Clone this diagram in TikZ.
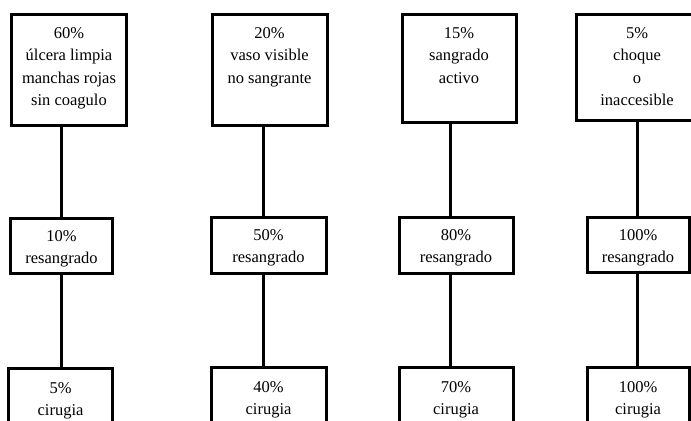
\documentclass[tikz,border=0pt]{standalone}
\usepackage{fontspec}
\setmainfont{Liberation Serif}
\begin{document}
\begin{tikzpicture}[x=1bp,y=-1bp,
  box/.style={draw, line width=3bp, inner sep=0pt, outer sep=0pt},
  lbl/.style={anchor=north, align=center, inner sep=0pt, font=\fontsize{16.5bp}{22.5bp}\selectfont},
  conn/.style={line width=3bp}]
\clip (0,0) rectangle (691,420);
\fill[white] (0,0) rectangle (691,420);
% column x positions of connectors
\coordinate (c1) at (61,0);
\coordinate (c2) at (263,0);
\coordinate (c3) at (450,0);
\coordinate (c4) at (637,0);
% top row
\node[box, minimum width=114bp, minimum height=111bp] (t1) at (69,69.5) {};
\node[box, minimum width=115bp, minimum height=111bp] (t2) at (269.5,69.5) {};
\node[box, minimum width=114bp, minimum height=108bp] (t3) at (459,68) {};
\node[box, minimum width=124bp, minimum height=106bp] (t4) at (638,67) {};
% middle row
\node[box, minimum width=101bp, minimum height=55bp] (m1) at (61.5,245.5) {};
\node[box, minimum width=115bp, minimum height=56bp] (m2) at (268.5,245) {};
\node[box, minimum width=114bp, minimum height=56bp] (m3) at (456,245) {};
\node[box, minimum width=102bp, minimum height=55bp] (m4) at (638,244.5) {};
% bottom row
\node[box, minimum width=103bp, minimum height=72bp] (b1) at (60.5,404) {};
\node[box, minimum width=115bp, minimum height=73bp] (b2) at (268.5,403.5) {};
\node[box, minimum width=114bp, minimum height=73bp] (b3) at (456,403.5) {};
\node[box, minimum width=102bp, minimum height=73bp] (b4) at (638,403.5) {};
% texts
\node[lbl] (t1l) at ([yshift=-13bp]t1.north) {60\%\\úlcera limpia\\manchas rojas\\sin coagulo};
\node[lbl] (t2l) at ([yshift=-13bp]t2.north) {20\%\\vaso visible\\no sangrante};
\node[lbl] (t3l) at ([yshift=-13bp]t3.north) {15\%\\sangrado\\activo};
\node[lbl] (t4l) at ([yshift=-13bp,xshift=-1bp]t4.north) {5\%\\choque\\o\\inaccesible};
\node[lbl] (m1l) at ([yshift=-12bp]m1.north) {10\%\\resangrado};
\node[lbl] (m2l) at ([yshift=-12bp]m2.north) {50\%\\resangrado};
\node[lbl] (m3l) at ([yshift=-12bp]m3.north) {80\%\\resangrado};
\node[lbl] (m4l) at ([yshift=-12bp]m4.north) {100\%\\resangrado};
\node[lbl] (b1l) at ([yshift=-14bp]b1.north) {5\%\\cirugia};
\node[lbl] (b2l) at ([yshift=-14bp]b2.north) {40\%\\cirugia};
\node[lbl] (b3l) at ([yshift=-14bp]b3.north) {70\%\\cirugia};
\node[lbl] (b4l) at ([yshift=-14bp]b4.north) {100\%\\cirugia};
% connectors
\draw[conn] (t1.south -| c1) -- (m1.north -| c1);
\draw[conn] (m1.south -| c1) -- (b1.north -| c1);
\draw[conn] (t2.south -| c2) -- (m2.north -| c2);
\draw[conn] (m2.south -| c2) -- (b2.north -| c2);
\draw[conn] (t3.south -| c3) -- (m3.north -| c3);
\draw[conn] (m3.south -| c3) -- (b3.north -| c3);
\draw[conn] (t4.south -| c4) -- (m4.north -| c4);
\draw[conn] (m4.south -| c4) -- (b4.north -| c4);
\end{tikzpicture}
\end{document}
